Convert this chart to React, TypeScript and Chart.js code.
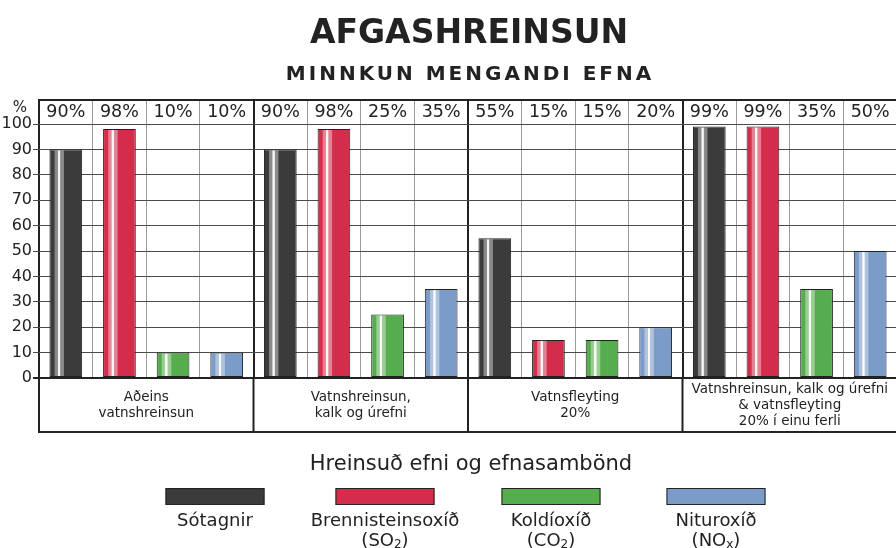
import React, { useEffect, useRef } from "react";
import { Chart, registerables } from "chart.js";

Chart.register(...registerables);

// ---- data ----
const groupLabels: string[][] = [
  ["Aðeins", "vatnshreinsun"],
  ["Vatnshreinsun,", "kalk og úrefni"],
  ["Vatnsfleyting", "20%"],
  ["Vatnshreinsun, kalk og úrefni", "& vatnsfleyting", "20% í einu ferli"],
];
const sotagnir = [90, 90, 55, 99];
const brennisteinsoxid = [98, 98, 15, 99];
const koldioxid = [10, 25, 15, 35];
const nituroxid = [10, 35, 20, 50];
const seriesNames = ["Sótagnir", "Brennisteinsoxíð", "Koldíoxíð", "Nituroxíð"];
const seriesFormulas: string[][] = [[], ["SO", "2"], ["CO", "2"], ["NO", "x"]];
const seriesColors = ["#3b3b3b", "#d42d4c", "#56ad4d", "#7b9bc8"];
const yTickValues = [0, 10, 20, 30, 40, 50, 60, 70, 80, 90, 100];
const titleText = "AFGASHREINSUN";
const subtitleText = "MINNKUN MENGANDI EFNA";
const legendTitle = "Hreinsuð efni og efnasambönd";
const unitLabel = "%";

const FONT = "'DejaVu Sans', sans-serif";
const INK = "#222";

const decorPlugin = {
  id: "decor",
  afterDatasetDraw(chart: any, args: any) {
    const meta = chart.getDatasetMeta(args.index);
    const ctx = chart.ctx as CanvasRenderingContext2D;
    meta.data.forEach((bar: any) => {
      const { x, y, base, width } = bar.getProps(["x", "y", "base", "width"], true);
      const left = x - width / 2;
      const g = ctx.createLinearGradient(left, 0, left + width, 0);
      const st: [number, number][] = [
        [0, 0], [0.14, 0], [0.17, 0.38], [0.25, 0.42], [0.27, 0.95],
        [0.32, 0.95], [0.34, 0.42], [0.43, 0.38], [0.46, 0], [1, 0],
      ];
      st.forEach(([o, a]) => g.addColorStop(o, `rgba(255,255,255,${a})`));
      ctx.save();
      ctx.fillStyle = g;
      ctx.fillRect(left + 1, y + 1, width - 2, base - y - 2);
      ctx.restore();
    });
  },
  afterDraw(chart: any) {
    const ctx = chart.ctx as CanvasRenderingContext2D;
    const { left, right, top, bottom } = chart.chartArea;
    const x2 = chart.scales.x2;
    const frameTop = top - 24;
    const frameBottom = bottom + 54;
    ctx.save();
    // frame lines
    ctx.strokeStyle = INK;
    ctx.lineWidth = 2;
    ctx.beginPath();
    ctx.moveTo(left - 1, frameTop);
    ctx.lineTo(right + 1, frameTop);
    ctx.moveTo(left - 1, frameBottom);
    ctx.lineTo(right + 1, frameBottom);
    for (let k = 0; k <= 16; k += 4) {
      const px = x2.getPixelForValue(k);
      ctx.moveTo(px, bottom);
      ctx.lineTo(px, frameBottom + 1);
    }
    ctx.stroke();

    // percent labels above bars
    ctx.fillStyle = INK;
    ctx.textAlign = "center";
    ctx.textBaseline = "middle";
    ctx.font = `17.5px ${FONT}`;
    chart.data.datasets.forEach((ds: any, i: number) => {
      const meta = chart.getDatasetMeta(i);
      meta.data.forEach((bar: any, j: number) => {
        ctx.fillText(`${ds.data[j]}%`, bar.x, top - 11.5);
      });
    });

    // unit
    ctx.font = `15px ${FONT}`;
    ctx.fillText(unitLabel, 20, 108);

    // titles
    ctx.textBaseline = "alphabetic";
    ctx.font = `bold 33px ${FONT}`;
    ctx.fillText(titleText, 469, 43);
    ctx.font = `bold 20px ${FONT}`;
    (ctx as any).letterSpacing = "3px";
    ctx.fillText(subtitleText, 470, 80);
    (ctx as any).letterSpacing = "0px";
    ctx.textBaseline = "middle";

    // legend
    ctx.font = `21px ${FONT}`;
    ctx.fillText(legendTitle, 471, 465);
    const centers = [215, 385, 551, 716];
    const bw = 99, bh = 17, by = 488;
    chart.data.datasets.forEach((ds: any, i: number) => {
      const c = centers[i];
      ctx.fillStyle = ds.backgroundColor;
      ctx.fillRect(c - bw / 2, by, bw, bh);
      ctx.strokeStyle = INK;
      ctx.lineWidth = 1;
      ctx.strokeRect(c - bw / 2 + 0.5, by + 0.5, bw - 1, bh - 1);
      ctx.fillStyle = INK;
      ctx.font = `18px ${FONT}`;
      ctx.textAlign = "center";
      ctx.fillText(ds.label, c, 521);
      const f = seriesFormulas[i];
      if (f.length) {
        const big = `18px ${FONT}`;
        const small = `12px ${FONT}`;
        ctx.font = big;
        const w1 = ctx.measureText("(" + f[0]).width;
        const w3 = ctx.measureText(")").width;
        ctx.font = small;
        const w2 = ctx.measureText(f[1]).width;
        let sx = c - (w1 + w2 + w3) / 2;
        ctx.textAlign = "left";
        ctx.font = big;
        ctx.fillText("(" + f[0], sx, 541);
        sx += w1;
        ctx.font = small;
        ctx.fillText(f[1], sx, 545);
        sx += w2;
        ctx.font = big;
        ctx.fillText(")", sx, 541);
        ctx.textAlign = "center";
      }
    });
    ctx.restore();
  },
};

export default function App() {
  const ref = useRef<HTMLCanvasElement>(null);
  useEffect(() => {
    if (!ref.current) return;
    const values = [sotagnir, brennisteinsoxid, koldioxid, nituroxid];
    const chart = new Chart(ref.current, {
      type: "bar",
      data: {
        labels: groupLabels,
        datasets: values.map((d, i) => ({
          label: seriesNames[i],
          data: d,
          backgroundColor: seriesColors[i],
          borderColor: INK,
          borderWidth: 1,
          borderSkipped: false,
          categoryPercentage: 1,
          barPercentage: 0.61,
          xAxisID: "x",
          yAxisID: "y",
        })),
      },
      options: {
        animation: false,
        responsive: true,
        maintainAspectRatio: false,
        layout: { padding: { top: 100, right: 3, left: 0, bottom: 0 } },
        plugins: { legend: { display: false }, tooltip: { enabled: false }, title: { display: false } },
        scales: {
          x: {
            type: "category",
            position: "bottom",
            offset: true,
            grid: { display: false, drawTicks: false, offset: true },
            border: { display: false },
            ticks: {
              color: INK,
              font: { family: FONT, size: 13.5, lineHeight: 1.2 },
              crossAlign: "center",
              padding: 11,
              maxRotation: 0,
              minRotation: 0,
              autoSkip: false,
            },
            afterFit: (s: any) => { s.height = 170; },
          },
          x2: {
            type: "linear",
            axis: "x",
            position: "top",
            min: 0,
            max: 16,
            offset: false,
            grid: {
              offset: false,
              color: (c: any) => (c.tick && c.tick.value % 4 === 0 ? INK : "#9c9c9c"),
              lineWidth: (c: any) => (c.tick && c.tick.value % 4 === 0 ? 2 : 1),
              drawTicks: true,
              tickLength: 24,
            },
            border: { display: false },
            ticks: { display: false, stepSize: 1 },
            afterFit: (s: any) => { s.height = 24; },
          },
          y: {
            type: "linear",
            position: "left",
            min: 0,
            max: 100,
            afterBuildTicks: (s: any) => { s.ticks = yTickValues.map((v) => ({ value: v })); },
            grid: {
              color: (c: any) => (c.tick && c.tick.value === 0 ? INK : "#4a4a4a"),
              lineWidth: (c: any) => (c.tick && c.tick.value === 0 ? 2 : 1),
              tickLength: 6,
            },
            border: { display: false },
            ticks: {
              color: INK,
              font: { family: FONT, size: 16 },
              padding: 1,
            },
            afterFit: (s: any) => { s.width = 39; },
          },
        },
      },
      plugins: [decorPlugin],
    } as any);
    return () => chart.destroy();
  }, []);
  return (
    <div style={{ position: "absolute", left: 0, top: 0, width: 896, height: 548, overflow: "hidden", background: "#fff" }}>
      <div style={{ position: "relative", width: 900, height: 548 }}>
        <canvas ref={ref} />
      </div>
    </div>
  );
}
